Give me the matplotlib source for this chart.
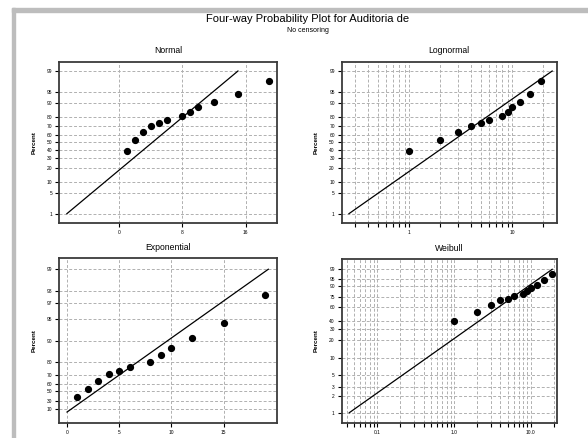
import numpy as np
import matplotlib
matplotlib.use("Agg")
import matplotlib.pyplot as plt
from matplotlib.ticker import FixedLocator, NullFormatter, LogLocator
from statistics import NormalDist

plt.rcParams["font.family"] = ["Liberation Sans", "DejaVu Sans"]

# data
times = [1, 2, 3, 4, 5, 6, 8, 9, 10, 12, 15, 19]
percent = [39.2, 53.0, 62.7, 70.3, 73.2, 76.6, 80.4, 84.1, 87.3, 90.8, 94.3, 97.7]

# fitted lines (estimated)
norm_mu, norm_sigma = 4.2, 4.66
lnorm_loc, lnorm_scale = 0.401, 0.424   # log10 units
exp_mean = 4.19
wbl_shape, wbl_scale = 1.006, 4.17

norm_yticks = [1, 5, 10, 20, 30, 40, 50, 60, 70, 80, 90, 95, 99]
exp_yticks = [10, 30, 50, 60, 70, 80, 90, 95, 97, 98, 99]
wbl_yticks = [1, 2, 3, 5, 10, 20, 30, 40, 60, 75, 90, 95, 99]

W, H = 588, 438
nd = NormalDist()


def norm_fwd(p):
    p = np.clip(np.asarray(p, float), 1e-6, 100 - 1e-6)
    return np.vectorize(nd.inv_cdf, otypes=[float])(p / 100)


def norm_inv(z):
    return np.vectorize(nd.cdf, otypes=[float])(np.asarray(z, float)) * 100


def exp_fwd(p):
    p = np.clip(np.asarray(p, float), -1e6, 100 - 1e-9)
    return -np.log(1 - p / 100)


def exp_inv(y):
    return 100 * (1 - np.exp(-np.asarray(y, float)))


def wbl_fwd(p):
    p = np.clip(np.asarray(p, float), 1e-9, 100 - 1e-9)
    return np.log(-np.log(1 - p / 100))


def wbl_inv(y):
    return 100 * (1 - np.exp(-np.exp(np.asarray(y, float))))


def rect(l, t, r, b):
    return [l / W, 1 - b / H, (r - l) / W, (b - t) / H]


def style(ax, title, yticks, labx):
    ax.set_title(title, fontsize=6.2, pad=6)
    ax.yaxis.set_major_locator(FixedLocator(yticks))
    ax.set_yticklabels([str(t) for t in yticks])
    ax.yaxis.set_minor_locator(FixedLocator([]))
    ax.tick_params(which="both", direction="out", length=3, width=0.8,
                   labelsize=3.5, pad=2, colors="black")
    ax.grid(True, which="major", axis="y", linestyle=(0, (3, 2)),
            color="#b0b0b0", linewidth=0.7)
    for s in ax.spines.values():
        s.set_color("#3a3a3a")
        s.set_linewidth(1.3)
    ax.set_ylabel("Percent", fontsize=4.5, fontweight="bold")
    ax.yaxis.set_label_coords(labx, 0.5)


fig = plt.figure(figsize=(W / 100, H / 100), dpi=100)

# window border
fig.patches.append(plt.Rectangle((12 / W, 0), 3.5 / W, 1 - 8 / H,
                                 transform=fig.transFigure, color="#bdbdbd"))
fig.patches.append(plt.Rectangle((12 / W, 1 - 11.5 / H), 1, 3.5 / H,
                                 transform=fig.transFigure, color="#bdbdbd"))

fig.text(308 / W, 1 - 19 / H, "Four-way Probability Plot for Auditoria de",
         ha="center", va="center", fontsize=8)
fig.text(308 / W, 1 - 31 / H, "No censoring", ha="center", va="center",
         fontsize=5)

z99 = nd.inv_cdf(0.99)

# Normal
ax = fig.add_axes(rect(59, 61.7, 276.7, 223.3))
ax.set_yscale("function", functions=(norm_fwd, norm_inv))
ax.plot([norm_mu - z99 * norm_sigma, norm_mu + z99 * norm_sigma], [1, 99],
        color="black", lw=0.9)
ax.plot(times, percent, "o", color="black", ms=4.2)
ax.set_xlim(-7.64, 19.95)
ax.set_ylim(norm_inv(-2.64), norm_inv(2.63))
ax.xaxis.set_major_locator(FixedLocator([0, 8, 16]))
ax.grid(True, which="major", axis="x", linestyle=(0, (3, 2)),
        color="#b0b0b0", linewidth=0.7)
style(ax, "Normal", norm_yticks, -0.101)

# Lognormal
ax = fig.add_axes(rect(341.7, 61.7, 556.7, 223.3))
ax.set_xscale("log")
ax.set_yscale("function", functions=(norm_fwd, norm_inv))
ax.plot([10 ** (lnorm_loc - z99 * lnorm_scale), 10 ** (lnorm_loc + z99 * lnorm_scale)],
        [1, 99], color="black", lw=0.9)
ax.plot(times, percent, "o", color="black", ms=4.2)
ax.set_xlim(0.221, 27.0)
ax.set_ylim(norm_inv(-2.64), norm_inv(2.63))
ax.xaxis.set_major_locator(FixedLocator([1, 10]))
ax.set_xticklabels(["1", "10"])
ax.xaxis.set_minor_locator(LogLocator(base=10, subs=np.arange(2, 10), numticks=20))
ax.xaxis.set_minor_formatter(NullFormatter())
ax.grid(True, which="both", axis="x", linestyle=(0, (3, 2)),
        color="#b0b0b0", linewidth=0.7)
style(ax, "Lognormal", norm_yticks, -0.106)

# Exponential
ax = fig.add_axes(rect(59, 258.3, 276.7, 423.3))
ax.set_yscale("function", functions=(exp_fwd, exp_inv))
ax.plot([0, exp_mean * -np.log(0.01)], [0, 99], color="black", lw=0.9)
ax.plot(times, percent, "o", color="black", ms=4.2)
ax.set_xlim(-0.77, 20.1)
ax.set_ylim(exp_inv(-0.363), exp_inv(4.958))
ax.xaxis.set_major_locator(FixedLocator([0, 5, 10, 15]))
ax.grid(True, which="major", axis="x", linestyle=(0, (3, 2)),
        color="#b0b0b0", linewidth=0.7)
style(ax, "Exponential", exp_yticks, -0.101)

# Weibull
ax = fig.add_axes(rect(341.7, 259, 556.7, 423))
ax.set_xscale("log")
ax.set_yscale("function", functions=(wbl_fwd, wbl_inv))
lo = wbl_scale * (-np.log(0.99)) ** (1 / wbl_shape)
hi = wbl_scale * (-np.log(0.01)) ** (1 / wbl_shape)
ax.plot([lo, hi], [1, 99], color="black", lw=0.9)
ax.plot(times, percent, "o", color="black", ms=4.2)
ax.set_xlim(0.0343, 21.8)
ax.set_ylim(wbl_inv(-5.04), wbl_inv(1.967))
ax.xaxis.set_major_locator(FixedLocator([0.1, 1, 10]))
ax.set_xticklabels(["0.1", "1.0", "10.0"])
ax.xaxis.set_minor_locator(LogLocator(base=10, subs=np.arange(2, 10), numticks=20))
ax.xaxis.set_minor_formatter(NullFormatter())
ax.grid(True, which="both", axis="x", linestyle=(0, (3, 2)),
        color="#b0b0b0", linewidth=0.7)
style(ax, "Weibull", wbl_yticks, -0.106)

fig.savefig("out.png", dpi=100)
